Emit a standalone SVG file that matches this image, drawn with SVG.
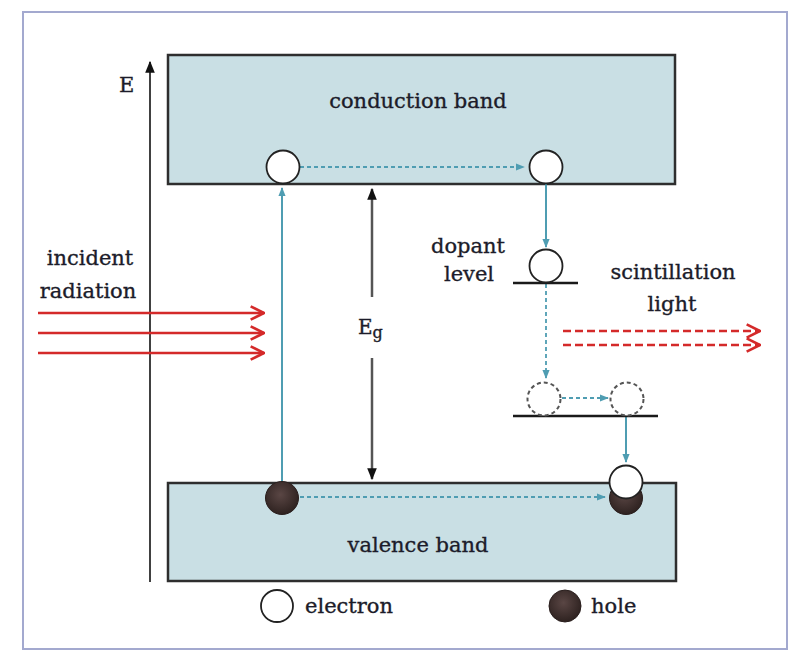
<svg xmlns="http://www.w3.org/2000/svg" width="802" height="665" viewBox="0 0 802 665">
<style>
.t{font-family:"DejaVu Serif","Liberation Serif",serif;font-size:21px;fill:#1c1c2a;stroke:#1c1c2a;stroke-width:0.35}
.band{fill:#c9dfe4;stroke:#2e2e2e;stroke-width:2.5}
.el{fill:#fff;stroke:#222;stroke-width:1.8}
.elg{fill:#fff;stroke:#555;stroke-width:2;stroke-dasharray:4 3}
.hole{fill:url(#hg);stroke:#2a1f1e;stroke-width:1}
.teal{stroke:#4f9db2;stroke-width:2;fill:none}
.tdash{stroke:#4f9db2;stroke-width:1.8;stroke-dasharray:4 3;fill:none}
.red{stroke:#d42a2a;stroke-width:2.5;fill:none}
.rdash{stroke:#d42a2a;stroke-width:2.5;stroke-dasharray:8 4;fill:none}
.lvl{stroke:#1a1a1a;stroke-width:2.5}
</style>
<defs>
<radialGradient id="hg" cx="0.45" cy="0.4" r="0.6">
<stop offset="0" stop-color="#5a4644"/>
<stop offset="1" stop-color="#2e2220"/>
</radialGradient>
<marker id="ta" viewBox="0 0 10 10" refX="9" refY="5" markerWidth="9" markerHeight="9" markerUnits="userSpaceOnUse" orient="auto">
<path d="M0,1 L10,5 L0,9 Z" fill="#4f9db2"/>
</marker>
<marker id="ka" viewBox="0 0 10 10" refX="9" refY="5" markerWidth="12" markerHeight="12" markerUnits="userSpaceOnUse" orient="auto">
<path d="M0,1 L10,5 L0,9 Z" fill="#111"/>
</marker>
<marker id="ra" viewBox="0 0 12 12" refX="11" refY="6" markerWidth="16" markerHeight="16" markerUnits="userSpaceOnUse" orient="auto">
<path d="M1,1 L11,6 L1,11" fill="none" stroke="#d42a2a" stroke-width="2"/>
</marker>
</defs>
<rect x="0" y="0" width="802" height="665" fill="#fff"/>
<rect id="frame" x="23" y="12" width="764" height="637" fill="#fff" stroke="#a3a9cf" stroke-width="2"/>

<g id="conduction-band">
<rect class="band" x="168" y="55" width="507" height="129"/>
<text class="t" x="418" y="108" text-anchor="middle">conduction band</text>
</g>
<g id="valence-band">
<rect class="band" x="168" y="483" width="508" height="98"/>
<text class="t" x="418" y="552" text-anchor="middle">valence band</text>
</g>

<g id="connectors">
<line x1="150" y1="582" x2="150" y2="62" stroke="#111" stroke-width="1.6" marker-end="url(#ka)"/>
<line x1="372" y1="297" x2="372" y2="189" stroke="#555" stroke-width="2.5" marker-end="url(#ka)"/>
<line x1="372" y1="358" x2="372" y2="479" stroke="#555" stroke-width="2.5" marker-end="url(#ka)"/>
<line class="teal" x1="282" y1="482" x2="282" y2="188" marker-end="url(#ta)"/>
<line class="tdash" x1="300" y1="167" x2="524" y2="167" marker-end="url(#ta)"/>
<line class="teal" x1="546" y1="184" x2="546" y2="247" marker-end="url(#ta)"/>
<line class="tdash" x1="546" y1="284" x2="546" y2="378" marker-end="url(#ta)"/>
<line class="tdash" x1="562" y1="398" x2="608" y2="398" marker-end="url(#ta)"/>
<line class="teal" x1="626" y1="416" x2="626" y2="462" marker-end="url(#ta)"/>
<line class="tdash" x1="300" y1="497" x2="605" y2="497" marker-end="url(#ta)"/>
<line class="red" x1="38" y1="313" x2="264" y2="313" marker-end="url(#ra)"/>
<line class="red" x1="38" y1="333" x2="264" y2="333" marker-end="url(#ra)"/>
<line class="red" x1="38" y1="353" x2="264" y2="353" marker-end="url(#ra)"/>
<line class="rdash" x1="563" y1="331" x2="760" y2="331" marker-end="url(#ra)"/>
<line class="rdash" x1="563" y1="345" x2="760" y2="345" marker-end="url(#ra)"/>
</g>

<g id="energy-axis">
<text class="t" x="119" y="92">E</text>
</g>
<g id="gap-label">
<text class="t" x="358" y="334" style="font-size:20px">E<tspan dy="4" style="font-size:16px">g</tspan></text>
</g>

<g id="dopant-level">
<line class="lvl" x1="513" y1="283" x2="578" y2="283"/>
<circle class="el" cx="546" cy="266" r="16.5"/>
<text class="t" x="468" y="253" text-anchor="middle">dopant</text>
<text class="t" x="469" y="281" text-anchor="middle">level</text>
</g>
<g id="lower-level">
<line class="lvl" x1="513" y1="416" x2="658" y2="416"/>
<circle class="elg" cx="544" cy="399" r="16.5"/>
<circle class="elg" cx="627" cy="399" r="16.5"/>
</g>

<g id="cb-electrons">
<circle class="el" cx="283" cy="167" r="16.5"/>
<circle class="el" cx="546" cy="167" r="16.5"/>
</g>
<g id="vb-holes">
<circle class="hole" cx="282" cy="498" r="16.5"/>
<circle class="hole" cx="626" cy="498" r="16.5"/>
<circle class="el" cx="626" cy="482" r="16.5"/>
</g>

<g id="incident-radiation">
<text class="t" x="90" y="265" text-anchor="middle">incident</text>
<text class="t" x="88" y="298" text-anchor="middle">radiation</text>
</g>
<g id="scintillation-light">
<text class="t" x="673" y="279" text-anchor="middle">scintillation</text>
<text class="t" x="672" y="311" text-anchor="middle">light</text>
</g>

<g id="legend">
<circle class="el" cx="277" cy="606" r="16"/>
<text class="t" x="305" y="613">electron</text>
<circle class="hole" cx="565" cy="606" r="16"/>
<text class="t" x="591" y="613">hole</text>
</g>
</svg>
